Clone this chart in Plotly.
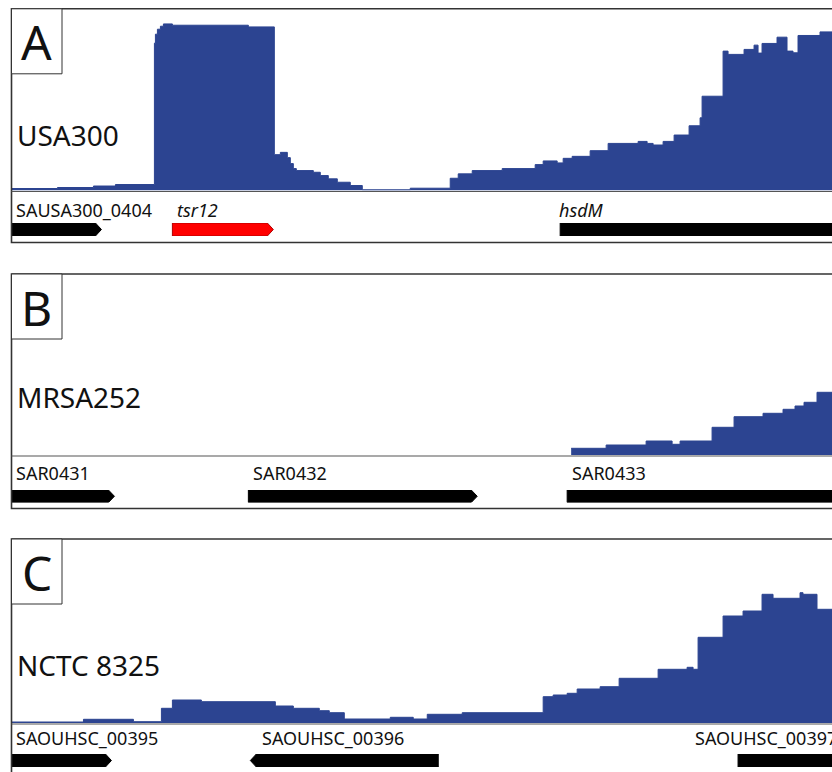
import plotly.graph_objects as go

# ---------------- data ----------------
# Coverage: step starts (relative position along the window) and read depth (relative units)
track_end = 821

usa300_pos = [0, 46, 82, 104, 143, 144, 146, 149, 152, 161, 237, 263, 269, 276, 279, 282,
              285, 302, 309, 317, 326, 339, 351, 399, 439, 447, 461, 491, 524, 532, 546, 552,
              561, 579, 597, 627, 636, 642, 652, 663, 678, 689, 691, 712, 717, 733, 743, 747,
              751, 766, 776, 782, 787, 809]
usa300_depth = [2, 3, 4.5, 6, 148, 157, 162, 165, 167.3, 166, 164.3, 36, 38.3, 33, 27, 22,
                20, 18.3, 15, 11.7, 8.3, 5, 0.7, 2.3, 12.3, 16.7, 20, 22, 26, 29.7, 27.7, 32.3,
                34.3, 40, 47.3, 49.3, 47.3, 45.7, 49.3, 55.7, 65, 73, 94.7, 140, 136.7, 141.7, 146, 138,
                147.7, 154, 140, 138.3, 155.7, 159.3]

mrsa252_pos = [560, 595, 635, 661, 669, 701, 723, 752, 772, 784, 793, 806]
mrsa252_depth = [6.7, 10, 14, 10.7, 14, 27.7, 38.3, 41.7, 45.7, 49, 52.7, 62.7]

nctc8325_pos = [0, 72, 122, 150, 161, 190, 264, 282, 308, 318, 333, 379, 402, 416, 451, 532,
                542, 556, 566, 589, 608, 647, 676, 682, 687, 712, 732, 751, 762, 789, 792, 806]
nctc8325_depth = [1, 3.7, 1.3, 14.7, 23, 21.3, 17, 14.7, 12.3, 10.3, 4, 5.7, 4, 8.7, 10.3, 26.3,
                  28, 29.7, 34, 36.3, 44.7, 53.7, 55.7, 53.7, 85.7, 107, 112, 128.7, 124.7, 130.3,
                  128.7, 113.7]

# Genes
usa300_genes = ["SAUSA300_0404", "tsr12", "hsdM"]
usa300_gene_start = [-10, 161, 549]
usa300_gene_end = [90, 262, 900]
usa300_gene_strand = [1, 1, 1]
usa300_gene_italic = [False, True, True]
usa300_gene_highlight = [False, True, False]
usa300_label_pos = [2, 164, 546]

mrsa252_genes = ["SAR0431", "SAR0432", "SAR0433"]
mrsa252_gene_start = [-10, 237, 556]
mrsa252_gene_end = [103, 466, 900]
mrsa252_gene_strand = [1, 1, 1]
mrsa252_gene_italic = [False, False, False]
mrsa252_gene_highlight = [False, False, False]
mrsa252_label_pos = [2, 240, 559]

nctc8325_genes = ["SAOUHSC_00395", "SAOUHSC_00396", "SAOUHSC_00397"]
nctc8325_gene_start = [-10, 239, 727]
nctc8325_gene_end = [100, 427, 900]
nctc8325_gene_strand = [1, -1, 1]
nctc8325_gene_italic = [False, False, False]
nctc8325_gene_highlight = [False, False, False]
nctc8325_label_pos = [2, 249, 682]

panel_letters = ["A", "B", "C"]
strain_names = ["USA300", "MRSA252", "NCTC 8325"]

# ---------------- layout helpers ----------------
W, H = 832, 772
FONT = "Noto Sans"
COV_COLOR = "rgb(44,68,145)"
FRAME_COLOR = "#333333"


def px(p):
    return p / W


def py(p):
    return 1 - p / H


panels = [
    dict(pos=usa300_pos, depth=usa300_depth, genes=usa300_genes, gs=usa300_gene_start,
         ge=usa300_gene_end, strand=usa300_gene_strand, ital=usa300_gene_italic,
         hi=usa300_gene_highlight, lab=usa300_label_pos,
         top=8.8, base=190.5, bottom=242.5, ymax=182.5, gene_y=(223, 236), label_y=210, name_y=135),
    dict(pos=mrsa252_pos, depth=mrsa252_depth, genes=mrsa252_genes, gs=mrsa252_gene_start,
         ge=mrsa252_gene_end, strand=mrsa252_gene_strand, ital=mrsa252_gene_italic,
         hi=mrsa252_gene_highlight, lab=mrsa252_label_pos,
         top=274, base=455, bottom=508.5, ymax=181, gene_y=(490, 502.5), label_y=473, name_y=397),
    dict(pos=nctc8325_pos, depth=nctc8325_depth, genes=nctc8325_genes, gs=nctc8325_gene_start,
         ge=nctc8325_gene_end, strand=nctc8325_gene_strand, ital=nctc8325_gene_italic,
         hi=nctc8325_gene_highlight, lab=nctc8325_label_pos,
         top=539, base=723, bottom=800, ymax=184, gene_y=(754, 767), label_y=738, name_y=665),
]

HEAD = 6


def arrow(s, e, strand):
    if strand > 0:
        return [s, e - HEAD, e, e - HEAD, s, s], [0, 0, 0.5, 1, 1, 0]
    return [e, s + HEAD, s, s + HEAD, e, e], [0, 0, 0.5, 1, 1, 0]


fig = go.Figure()
shapes = []
annotations = []
layout_axes = {}
X_LEFT = 11.5

axis_common = dict(visible=False, showgrid=False, zeroline=False, fixedrange=True)
layout_axes["xaxis"] = dict(domain=[px(X_LEFT), 1], range=[0, track_end], **axis_common)

ax_idx = 1
for i, p in enumerate(panels):
    cov_ax = ax_idx
    gene_ax = ax_idx + 1
    ax_idx += 2
    cov_name = "yaxis" if cov_ax == 1 else f"yaxis{cov_ax}"
    layout_axes[cov_name] = dict(domain=[py(p["base"]), py(p["top"])], range=[0, p["ymax"]],
                                 anchor="x", **axis_common)
    layout_axes[f"yaxis{gene_ax}"] = dict(domain=[py(p["gene_y"][1]), py(p["gene_y"][0])],
                                          range=[0, 1], anchor="x", **axis_common)
    # coverage
    xs = list(p["pos"]) + [track_end]
    ys = list(p["depth"]) + [p["depth"][-1]]
    fig.add_trace(go.Scatter(x=xs, y=ys, mode="lines", line=dict(shape="hv", color=COV_COLOR, width=1),
                             fill="tozeroy", fillcolor=COV_COLOR, hoverinfo="skip", showlegend=False,
                             yaxis="y" if cov_ax == 1 else f"y{cov_ax}"))
    # genes
    for g, s, e, st, it, hl, lp in zip(p["genes"], p["gs"], p["ge"], p["strand"], p["ital"], p["hi"], p["lab"]):
        ax_x, ax_y = arrow(s, e, st)
        fill = "#ff0000" if hl else "#000000"
        edge = "#b00000" if hl else "#000000"
        fig.add_trace(go.Scatter(x=ax_x, y=ax_y, mode="lines", fill="toself", fillcolor=fill,
                                 line=dict(color=edge, width=1), hoverinfo="skip", showlegend=False,
                                 yaxis=f"y{gene_ax}"))
        annotations.append(dict(x=lp, y=py(p["label_y"]), xref="x", yref="paper",
                                text=f"<i>{g}</i>" if it else g, showarrow=False,
                                xanchor="left", yanchor="middle",
                                font=dict(family=FONT, size=18, color="#111111")))
    # frame
    shapes.append(dict(type="rect", xref="paper", yref="paper", x0=px(X_LEFT), x1=1.05,
                       y0=py(p["bottom"]), y1=py(p["top"]), line=dict(color=FRAME_COLOR, width=1.6),
                       fillcolor="rgba(0,0,0,0)", layer="above"))
    # separator line between coverage and gene track
    shapes.append(dict(type="line", xref="paper", yref="paper", x0=px(X_LEFT), x1=1,
                       y0=py(p["base"] + 1), y1=py(p["base"] + 1), line=dict(color="#555555", width=1.2),
                       layer="above"))
    # letter box
    shapes.append(dict(type="rect", xref="paper", yref="paper", x0=px(X_LEFT), x1=px(62),
                       y0=py(p["top"] + 65), y1=py(p["top"]), line=dict(color=FRAME_COLOR, width=1),
                       fillcolor="white", layer="above"))
    annotations.append(dict(x=px(36.5), y=py(p["top"] + 33), xref="paper", yref="paper",
                            text=panel_letters[i], showarrow=False, xanchor="center", yanchor="middle",
                            font=dict(family=FONT, size=48, color="#111111")))
    annotations.append(dict(x=px(14.5), y=py(p["name_y"]), xref="paper", yref="paper",
                            text=strain_names[i], showarrow=False, xanchor="left", yanchor="middle",
                            font=dict(family=FONT, size=28, color="#111111")))

fig.update_layout(width=W, height=H, margin=dict(l=0, r=0, t=0, b=0),
                  paper_bgcolor="white", plot_bgcolor="rgba(0,0,0,0)",
                  shapes=shapes, annotations=annotations, showlegend=False, **layout_axes)

# remove the browser's default page margin so the figure fills the window exactly
fig.write_html("out.html", config={"displayModeBar": False},
               post_script="document.body.style.margin='0';document.body.style.overflow='hidden';")
